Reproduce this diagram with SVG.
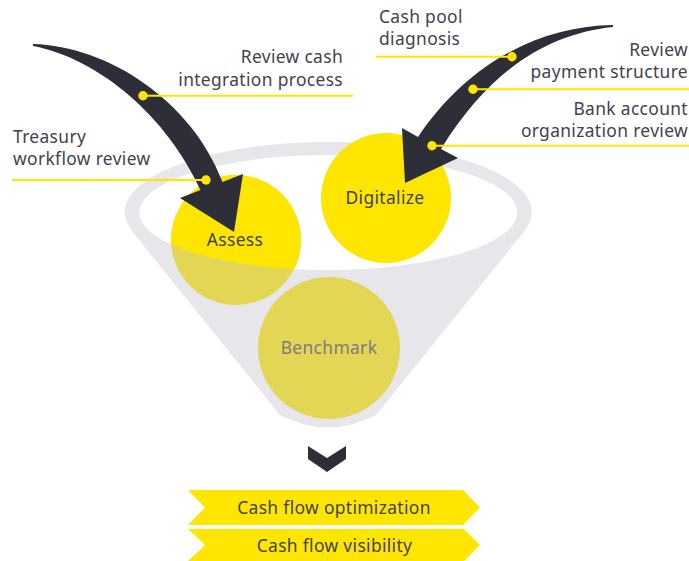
<svg xmlns="http://www.w3.org/2000/svg" width="689" height="561" viewBox="0 0 689 561">
<style>
  text { font-family: "Noto Sans", "Open Sans", "DejaVu Sans", sans-serif; font-size: 17.4px; font-weight: 400; letter-spacing: 0.35px; fill: #42424c; }
  .mid { text-anchor: middle; }
  .end { text-anchor: end; }
  .funnel { fill: #e6e6eb; }
  .bright { fill: #ffe600; }
  .muted { fill: #e4d655; }
  .arrow { fill: #2e2e38; }
  .lead { stroke: #ffe600; stroke-width: 2; fill: none; }
  .dot { fill: #ffe600; }
  .banner { fill: #ffe600; }
</style>
<defs>
  <clipPath id="brightClip">
    <ellipse cx="328.3" cy="212.5" rx="189" ry="57.5"/>
    <rect x="0" y="0" width="689" height="212.5"/>
  </clipPath>
</defs>
<rect width="689" height="561" fill="#ffffff"/>

<g id="funnel">
  <ellipse class="funnel" cx="328.3" cy="212" rx="203.5" ry="70"/>
  <path class="funnel" d="M132,231 L280,415 Q328,440 376,415 L524.5,231 Z"/>
  <ellipse cx="328.3" cy="212.5" rx="189" ry="57.5" fill="#ffffff"/>
</g>

<g id="node-assess">
  <circle class="muted" cx="236" cy="240" r="65"/>
  <circle class="bright" cx="236" cy="240" r="65" clip-path="url(#brightClip)"/>
  <text class="mid" x="235" y="245.5">Assess</text>
</g>

<g id="node-digitalize">
  <circle class="bright" cx="386" cy="198" r="65"/>
  <text class="mid" x="385" y="204">Digitalize</text>
</g>

<g id="node-benchmark">
  <circle class="muted" cx="329" cy="348" r="71"/>
  <text class="mid" x="329" y="353.5" style="fill:#7b7b80">Benchmark</text>
</g>

<g id="connectors">
  <path class="arrow" d="M33,44 C108,46 192,101 222.5,182 L243,174 L234,232 L180,198 L200.5,190 C167,117 100,59 33,46 Z"/>
  <path class="arrow" d="M613,25 C543,26 470,60 418,137 L402,128 L405,183 L458,158 L441,149 C490,70 547,34 613,27 Z"/>
  <line class="lead" x1="143" y1="95.7" x2="353" y2="95.7"/>
  <line class="lead" x1="12" y1="180" x2="206" y2="180"/>
  <line class="lead" x1="376" y1="56.7" x2="512" y2="56.7"/>
  <line class="lead" x1="473" y1="89.3" x2="689" y2="89.3"/>
  <line class="lead" x1="432" y1="145.7" x2="689" y2="145.7"/>
  <circle class="dot" cx="143" cy="95.7" r="4.7"/>
  <circle class="dot" cx="206" cy="180" r="4.7"/>
  <circle class="dot" cx="512" cy="56.7" r="4.7"/>
  <circle class="dot" cx="473" cy="89.3" r="4.7"/>
  <circle class="dot" cx="432" cy="145.7" r="4.7"/>
</g>

<g id="label-review-cash">
  <text class="end" x="343" y="63.3">Review cash</text>
  <text class="end" x="343" y="85.5">integration process</text>
</g>
<g id="label-treasury">
  <text x="13" y="142.7">Treasury</text>
  <text x="13" y="164.9">workflow review</text>
</g>
<g id="label-cash-pool">
  <text x="379" y="22.7">Cash pool</text>
  <text x="379" y="45">diagnosis</text>
</g>
<g id="label-review-payment">
  <text class="end" x="688" y="56">Review</text>
  <text class="end" x="688" y="78">payment structure</text>
</g>
<g id="label-bank-account">
  <text class="end" x="688" y="115">Bank account</text>
  <text class="end" x="688" y="137">organization review</text>
</g>

<g id="chevron">
  <polygon class="arrow" points="308,446 327,458 346,446 346,459 327,472 308,459"/>
</g>

<g id="banner-optimization">
  <polygon class="banner" points="188,490 463,490 480,507.5 463,525 188,525 205,507.5"/>
  <text class="mid" x="334" y="513.5">Cash flow optimization</text>
</g>
<g id="banner-visibility">
  <polygon class="banner" points="188,529 464,529 480,545 464,561 188,561 205,545"/>
  <text class="mid" x="334.5" y="551.7">Cash flow visibility</text>
</g>
</svg>
